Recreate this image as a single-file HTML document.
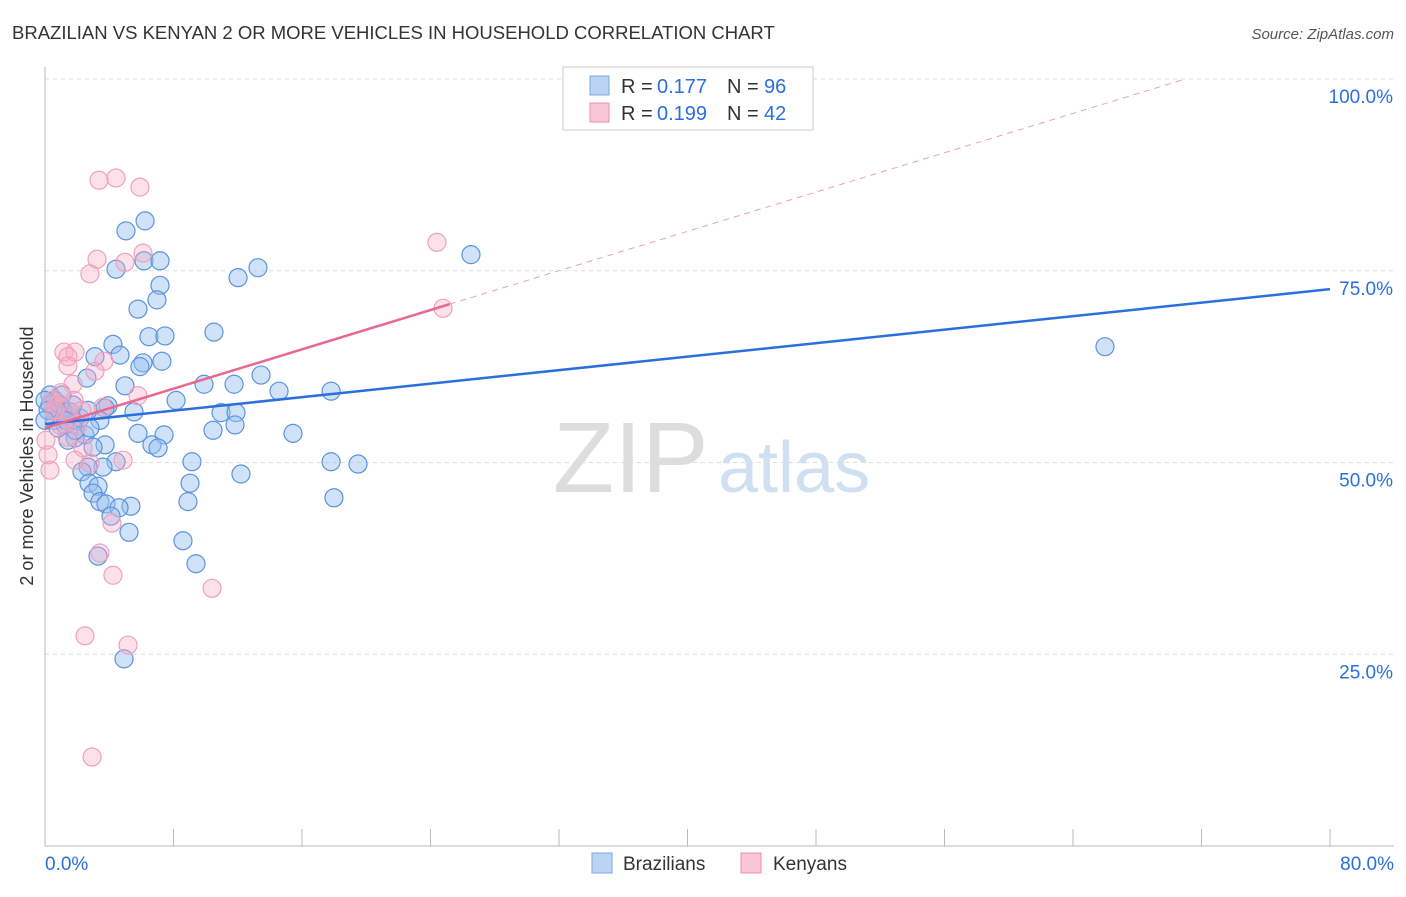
<!DOCTYPE html>
<html><head><meta charset="utf-8"><style>
body{margin:0;background:#fff;font-family:"Liberation Sans",sans-serif;}
svg text{font-family:"Liberation Sans",sans-serif;}
</style></head><body>
<svg id="chart" width="1406" height="892" xmlns="http://www.w3.org/2000/svg">
<text x="12" y="39" font-size="18.5" fill="#333">BRAZILIAN VS KENYAN 2 OR MORE VEHICLES IN HOUSEHOLD CORRELATION CHART</text>
<text x="1394" y="39" font-size="15" fill="#555" font-style="italic" text-anchor="end">Source: ZipAtlas.com</text>
<text x="0" y="0" font-size="18" fill="#333" text-anchor="middle" transform="translate(33,456) rotate(-90)">2 or more Vehicles in Household</text>
<text x="553" y="492" font-size="100" fill="#ddd" font-family="Liberation Serif">ZIP</text>
<text x="718" y="492" font-size="72" fill="#cfe0f3">atlas</text>
<g id="grid"></g><g id="axes"></g><g id="pts"></g><g id="lines"></g>
<g>
<rect x="563" y="67" width="250" height="63" fill="#fff" stroke="#ccc"/>
<rect x="590" y="76" width="19" height="19" fill="#bcd4f3" stroke="#7aa6e0"/>
<rect x="590" y="103" width="19" height="19" fill="#f8c6d6" stroke="#ec8fae"/>
<text x="621" y="93" font-size="20" fill="#333">R =</text><text x="657" y="93" font-size="20" fill="#2a6fdb">0.177</text>
<text x="727" y="93" font-size="20" fill="#333">N =</text><text x="764" y="93" font-size="20" fill="#2a6fdb">96</text>
<text x="621" y="120" font-size="20" fill="#333">R =</text><text x="657" y="120" font-size="20" fill="#2a6fdb">0.199</text>
<text x="727" y="120" font-size="20" fill="#333">N =</text><text x="764" y="120" font-size="20" fill="#2a6fdb">42</text>
</g>
<g>
<rect x="592" y="853" width="20" height="20" fill="#bcd4f3" stroke="#7aa6e0"/>
<text x="623" y="870" font-size="19" fill="#333">Brazilians</text>
<rect x="741" y="853" width="20" height="20" fill="#f8c6d6" stroke="#ec8fae"/>
<text x="773" y="870" font-size="19" fill="#333">Kenyans</text>
</g>
</svg>
<script>
const yTicks=[25,50,75,100];
const xTickLabels=["0.0%","80.0%"];
const bluePx=[[145,221],[126,231],[144,261],[160,261],[116,269],[238,278],[258,268],[471,255],[160,285],[157,300],[138,309],[214,332],[149,337],[165,336],[113,344],[120,355],[95,357],[143,363],[162,361],[140,367],[261,375],[125,386],[87,378],[204,384],[234,384],[279,391],[331,391],[176,400],[108,406],[105,408],[134,412],[221,413],[236,413],[63,410],[100,420],[72,420],[235,425],[213,430],[138,433],[164,435],[293,433],[152,445],[158,448],[85,435],[75,438],[68,440],[105,445],[93,447],[192,462],[331,462],[358,464],[116,462],[103,467],[88,467],[241,474],[82,472],[89,483],[190,483],[98,486],[93,493],[100,502],[188,502],[106,504],[131,506],[119,508],[111,516],[334,498],[129,532],[183,541],[98,556],[196,564],[124,659],[1105,347],[55,400],[50,405],[60,415],[55,420],[65,425],[75,430],[80,418],[50,395],[90,428],[70,412],[60,405],[58,428],[88,410],[45,400],[48,410],[45,420],[62,395],[66,420],[73,405]];
const pinkPx=[[99,180],[116,178],[140,187],[143,253],[125,262],[97,259],[90,274],[437,242],[443,308],[64,352],[75,352],[68,357],[68,366],[104,361],[95,371],[73,384],[61,393],[57,405],[74,400],[103,407],[138,396],[82,410],[70,418],[78,425],[67,437],[83,448],[90,463],[123,460],[75,460],[48,455],[50,470],[112,523],[100,553],[113,575],[212,588],[85,636],[128,645],[92,757],[55,410],[60,425],[52,400],[46,440]];
const blueX=bluePx.map(p=>+((p[0]-45)/1285*80).toFixed(2));
const blueY=bluePx.map(p=>+((846-p[1])/767*100).toFixed(1));
const pinkX=pinkPx.map(p=>+((p[0]-45)/1285*80).toFixed(2));
const pinkY=pinkPx.map(p=>+((846-p[1])/767*100).toFixed(1));
const blueTrend=[55.0,72.6];
const pinkTrend=[54.5,100,71];
const X=v=>45+v/80*1285, Y=v=>846-v/100*767;
const NS="http://www.w3.org/2000/svg";
function mk(t,a,parent){const e=document.createElementNS(NS,t);for(const k in a)e.setAttribute(k,a[k]);document.getElementById(parent).appendChild(e);return e;}
yTicks.forEach(t=>{
 const l=mk('line',{x1:45,x2:1394,y1:Y(t),y2:Y(t),stroke:'#ddd','stroke-dasharray':'4,4'},'grid');
 
 
 const tx=mk('text',{x:1393,y:Y(t)+24,'font-size':19,fill:'#2a6fdb','text-anchor':'end'},'grid');
 tx.textContent=t.toFixed(1)+'%';
 
 
});
let ax=mk('line',{x1:45,x2:45,y1:67,y2:846,stroke:'#bbb'},'axes');


ax=mk('line',{x1:45,x2:1394,y1:846,y2:846,stroke:'#bbb'},'axes');


for(let i=0;i<=10;i++){const x=X(i*8);const t=mk('line',{x1:x,x2:x,y1:829,y2:846,stroke:'#bbb'},'axes');
 
 }
[[0,"start"],[80,"end"]].forEach((d,i)=>{const t=mk('text',{x:i?1394:45,y:870,'font-size':19,fill:'#2a6fdb','text-anchor':d[1]},'axes');t.textContent=xTickLabels[i];
 
 });
blueX.forEach((x,i)=>{const c=mk('circle',{cx:X(x),cy:Y(blueY[i]),r:9,fill:'rgba(150,190,240,0.45)',stroke:'#5b93dd','stroke-width':1.2},'pts');
 
 });
pinkX.forEach((x,i)=>{const c=mk('circle',{cx:X(x),cy:Y(pinkY[i]),r:9,fill:'rgba(245,170,195,0.35)',stroke:'#f0a0bc','stroke-width':1.2},'pts');
 
 });
let l=mk('line',{x1:X(0),y1:Y(blueTrend[0]),x2:X(80),y2:Y(blueTrend[1]),stroke:'#2a6fdb','stroke-width':2.5},'lines');


const slope=(pinkTrend[1]-pinkTrend[0])/pinkTrend[2];
l=mk('line',{x1:X(0),y1:Y(pinkTrend[0]),x2:X(25.2),y2:Y(pinkTrend[0]+slope*25.2),stroke:'#e8688f','stroke-width':2.5},'lines');


l=mk('line',{x1:X(25.2),y1:Y(pinkTrend[0]+slope*25.2),x2:X(pinkTrend[2]),y2:Y(pinkTrend[1]),stroke:'#e8a0b8','stroke-width':1,'stroke-dasharray':'6,5'},'lines');


</script>
</body></html>
